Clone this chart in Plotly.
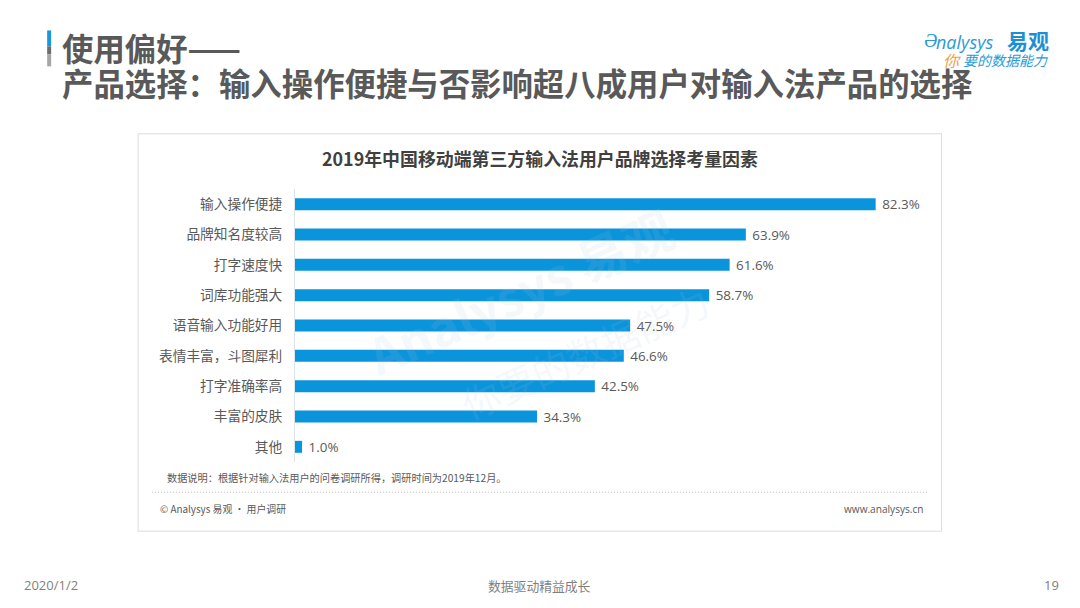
import plotly.graph_objects as go

W, H = 1080, 608

categories = ["输入操作便捷", "品牌知名度较高", "打字速度快", "词库功能强大", "语音输入功能好用",
              "表情丰富，斗图犀利", "打字准确率高", "丰富的皮肤", "其他"]
values = [82.3, 63.9, 61.6, 58.7, 47.5, 46.6, 42.5, 34.3, 1.0]

CJK = "Noto Sans CJK SC"
TEXT = "#595959"
BLUE = "#0A94DC"
WATERMARK = "rgba(170,200,225,0.13)"

# plot area in page pixels
left, right, top, bottom = 295, 930.4, 188.8, 462.2


def px(x):
    return (x - left) / (right - left)


def py(y):
    return (bottom - y) / (bottom - top)


def label(x, y, text, size, color=TEXT, anchor="left", angle=0, family=CJK):
    fig.add_annotation(x=px(x), y=py(y), xref="paper", yref="paper", text=text, showarrow=False,
                       xanchor=anchor, yanchor="middle", textangle=angle,
                       font=dict(family=family, size=size, color=color))


def box(x0, y0, x1, y1, **kw):
    fig.add_shape(type="rect", xref="paper", yref="paper", x0=px(x0), x1=px(x1), y0=py(y0), y1=py(y1),
                  layer="below", **kw)


fig = go.Figure(go.Bar(
    x=values, y=categories, orientation="h",
    marker=dict(color=BLUE, line_width=0),
    text=[f" {v:.1f}%" for v in values], textposition="outside", cliponaxis=False, constraintext="none",
    textfont=dict(family="Open Sans", size=13.4, color=TEXT),
))

# card and title accent
box(138, 133.5, 942, 531.5, fillcolor="white", line=dict(color="#DCDCDC", width=1))
box(47, 30, 51, 46, fillcolor="#1A96DC", line_width=0)
box(47, 46, 51, 54, fillcolor="#6E6E6E", line_width=0)
box(47, 54, 51, 66, fillcolor="#A6A6A6", line_width=0)
fig.add_shape(type="line", xref="paper", yref="paper", x0=px(152), x1=px(928), y0=py(492.5), y1=py(492.5),
              line=dict(color="#BDBDBD", width=1, dash="1px,2px"))

# watermark
label(520, 290, "<b>Analysys 易观</b>", 50, color=WATERMARK, anchor="center", angle=-24)
label(585, 352, "你要的数据能力", 38, color=WATERMARK, anchor="center", angle=-24)

# headline
label(59.5, 47, "<b>使用偏好——</b>", 31.4)
label(59.5, 82, "<b>产品选择：输入操作便捷与否影响超八成用户对输入法产品的选择</b>", 31.4)

# logo
label(922, 40, "<i>Ə</i>", 19, color="#2A9BD8", family="Open Sans")
label(934, 42, "<i>nalysys</i>", 18, color="#2A9BD8", family="Open Sans")
label(1005, 40, "<b>易观</b>", 21, color="#1E8FD5")
label(941, 60, "<i>你</i>", 16, color="#F0A23C")
label(961, 60, "<i>要的数据能力</i>", 14, color="#2A9BD8")

# chart texts
label(540, 158, "<b>2019年中国移动端第三方输入法用户品牌选择考量因素</b>", 17.9, color="#404040", anchor="center")
label(164.5, 478, "数据说明：根据针对输入法用户的问卷调研所得，调研时间为2019年12月。", 10.2)
label(157.5, 509, "© Analysys 易观 · 用户调研", 9.9)
label(925, 509, "www.analysys.cn", 10.1, anchor="right", family="Open Sans")

# page footer
label(21.5, 585, "2020/1/2", 13, color="#7F7F7F", family="Open Sans")
label(540, 586, "数据驱动精益成长", 12.8, color="#7F7F7F", anchor="center")
label(1061.5, 585, "19", 13, color="#7F7F7F", anchor="right", family="Open Sans")

fig.update_xaxes(range=[0, 90], visible=False, fixedrange=True)
fig.update_yaxes(autorange="reversed", showgrid=False, zeroline=False, showline=True, linecolor="#DDE3E8",
                 linewidth=1, ticks="", ticklabelstandoff=9,
                 tickfont=dict(family=CJK, size=13.7, color=TEXT), fixedrange=True)
fig.update_layout(
    width=W, height=H, template=None, showlegend=False, bargap=0.605,
    paper_bgcolor="white", plot_bgcolor="rgba(0,0,0,0)",
    margin=dict(l=left, r=W - right, t=top, b=H - bottom, autoexpand=False),
)

# drop the browser's default body margin so the figure sits at the page corner
fig.write_html("out.html", config=dict(displayModeBar=False),
               post_script="document.body.style.margin = '0';")
